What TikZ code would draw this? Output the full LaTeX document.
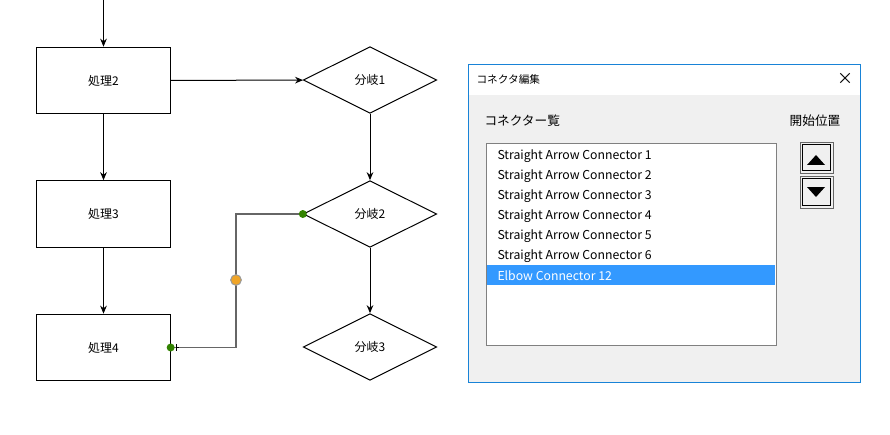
\documentclass[tikz,border=0pt]{standalone}
\usepackage{fontspec}
\setmainfont{Noto Sans CJK JP}
\usetikzlibrary{shapes.geometric,arrows.meta}
\definecolor{selblue}{RGB}{51,153,255}
\definecolor{dlgbg}{RGB}{240,240,240}
\definecolor{dlgedge}{RGB}{24,131,215}
\definecolor{okgreen}{RGB}{50,130,0}
\definecolor{midorange}{RGB}{240,165,40}
\tikzset{every picture/.style={line width=0.75pt}}
\tikzset{
  proc/.style={draw, minimum width=100pt, minimum height=50pt, inner sep=0pt, font=\fontsize{9}{10}\selectfont},
  branch/.style={draw, diamond, aspect=2, minimum width=100pt, minimum height=50pt, inner sep=0pt, font=\fontsize{9}{10}\selectfont},
  flow/.style={-{Stealth[length=6pt,width=5pt]}},
  item/.style={anchor=west, inner sep=0pt, font=\fontsize{9.2}{10}\selectfont},
  dot/.style={circle, fill=okgreen, inner sep=0pt, minimum size=6pt},
}
\begin{document}
\begin{tikzpicture}[x=0.75pt,y=0.75pt,yscale=-1,xscale=1]
    \useasboundingbox (0,0) rectangle (890,435);

    % Shapes
    \node[proc] (p2) at (103.5,80.5) {処理2};
    \node[proc] (p3) at (103.5,214) {処理3};
    \node[proc] (p4) at (103.5,347.5) {処理4};
    \node[branch] (b1) at (370,80) {分岐1};
    \node[branch] (b2) at (370,214) {分岐2};
    \node[branch] (b3) at (370,347) {分岐3};
    \coordinate (top) at (103.5,0);

    % Straight Lines
    \draw[flow] (top) -- (p2);
    \draw[flow] (p2) -- (p3);
    \draw[flow] (p3) -- (p4);
    \draw[flow] (p2) -- (b1);
    \draw[flow] (b1) -- (b2);
    \draw[flow] (b2) -- (b3);

    % Elbow Connector
    \coordinate (elbowtop) at (236,214);
    \coordinate (elbowbot) at (236,347.5);
    \draw[black!60, line width=1pt] (b2.west) -- (elbowtop) -- (elbowbot) -- (p4.east);
    \draw[{Bar[width=5pt]}-] ([xshift=4pt]p4.east) -- ([xshift=6pt]p4.east);
    \node[dot] (start) at (b2.west) {};
    \node[dot] (end) at (p4.east) {};
    \node[circle, fill=midorange, draw=black!40, inner sep=0pt, minimum size=8pt] (mid) at (236,280) {};

    % Dialog
    \draw[dlgedge, fill=dlgbg] (468.5,64.5) rectangle (860.5,382.5);
    \fill[white] (469.2,65.2) rectangle (859.8,95);
    \node[anchor=west, inner sep=0pt, font=\fontsize{8}{9}\selectfont] (title) at (476,79) {コネクタ編集};
    \node[inner sep=0pt, font=\fontsize{12}{12}\selectfont] (close) at (845,79) {×};
    \node[anchor=west, inner sep=0pt, font=\fontsize{9.5}{10}\selectfont] (listlbl) at (484,121) {コネクター覧};
    \node[inner sep=0pt, font=\fontsize{9.5}{10}\selectfont] (startlbl) at (815,121) {開始位置};

    % List box
    \draw[black!50, fill=white] (486,144) rectangle (776,345);
    \fill[selblue] (487,265) rectangle (775,285);
    \foreach \n [count=\i] in {1,...,6}
        \node[item] (it\i) at (497,136+20*\i) {Straight Arrow Connector \n};
    \node[item, text=white] (it7) at (497,276) {Elbow Connector 12};

    % Buttons
    \foreach \y/\nm in {143/up,177/down} {
        \draw[black!60, fill=dlgbg] (800,\y) rectangle (833,\y+31);
        \draw[black] (802,\y+2) rectangle (830,\y+28);
    }
    \fill (807,165) -- (825,165) -- (816,155) -- cycle;
    \fill (807,187) -- (825,187) -- (816,197) -- cycle;
\end{tikzpicture}
\end{document}
